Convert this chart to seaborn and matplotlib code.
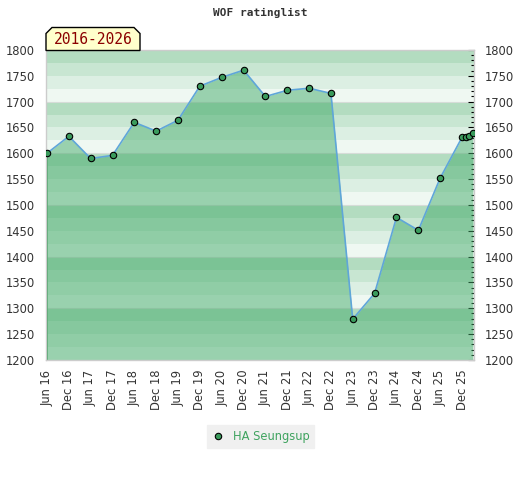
import matplotlib
matplotlib.use("Agg")
import matplotlib.pyplot as plt
import seaborn as sns
import pandas as pd
import numpy as np
from matplotlib.ticker import MultipleLocator
from matplotlib.lines import Line2D
from matplotlib.patches import Polygon

# ---- data ----
periods = ["2016-06", "2016-12", "2017-06", "2017-12", "2018-06", "2018-12",
           "2019-06", "2019-12", "2020-06", "2020-12", "2021-06", "2021-12",
           "2022-06", "2022-12", "2023-06", "2023-12", "2024-06", "2024-12",
           "2025-06", "2025-12", "2026-01", "2026-02", "2026-03"]
ratings = [1600, 1633, 1590, 1596, 1660, 1643, 1664, 1730, 1747, 1761,
           1710, 1722, 1726, 1716, 1279, 1329, 1476, 1451, 1552, 1631,
           1632, 1634, 1639]
tick_periods = ["2016-06", "2016-12", "2017-06", "2017-12", "2018-06", "2018-12",
                "2019-06", "2019-12", "2020-06", "2020-12", "2021-06", "2021-12",
                "2022-06", "2022-12", "2023-06", "2023-12", "2024-06", "2024-12",
                "2025-06", "2025-12"]
tick_labels = ["Jun 16", "Dec 16", "Jun 17", "Dec 17", "Jun 18", "Dec 18",
               "Jun 19", "Dec 19", "Jun 20", "Dec 20", "Jun 21", "Dec 21",
               "Jun 22", "Dec 22", "Jun 23", "Dec 23", "Jun 24", "Dec 24",
               "Jun 25", "Dec 25"]
player = "HA Seungsup"
title = "WOF ratinglist"
range_label = "2016-2026"
y_min, y_max = 1200, 1800

df = pd.DataFrame({"date": pd.to_datetime(periods), "rating": ratings})
ticks = pd.to_datetime(tick_periods)

sns.set_theme(style="white")
plt.rcParams["font.family"] = ["DejaVu Sans"]

fig = plt.figure(figsize=(5.2, 4.8), dpi=100)
ax = fig.add_axes([46/520, 1-360/480, 428/520, 310/480])

# background bands (4 shades per hundred, lightest at bottom)
band_colors = ["#eff8f2", "#dcefe3", "#c8e6d2", "#b3dcc0"]
for i, lo in enumerate(range(y_min, y_max, 25)):
    ax.axhspan(lo, lo + 25, color=band_colors[i % 4], lw=0, zorder=0)
for h in range(y_min + 100, y_max, 100):
    ax.axhline(h, color="#d6dcd8", lw=0.8, zorder=0.5)

# area fill
ax.fill_between(df["date"], df["rating"], y_min, color="#45ac6b", alpha=0.5,
                lw=0, zorder=1)
ax.vlines(df["date"].iloc[0], y_min, df["rating"].iloc[0], color="#3d9d5c",
          lw=1.2, zorder=2)

sns.lineplot(data=df, x="date", y="rating", ax=ax, color="#5fa6d9", lw=1.2,
             marker="o", markersize=4.6, markerfacecolor="#3a9b5c",
             markeredgecolor="black", markeredgewidth=0.8, zorder=3,
             legend=False)

ax.set_ylim(y_min, y_max)
ax.set_xlim(df["date"].iloc[0] - pd.Timedelta(days=8),
            df["date"].iloc[-1] + pd.Timedelta(days=10))
ax.set_xlabel("")
ax.set_ylabel("")

ax.set_xticks(ticks)
ax.set_xticklabels(tick_labels, rotation=90, fontsize=8.3, color="#333333")
ax.set_yticks(range(y_min, y_max + 1, 50))
ax.yaxis.set_minor_locator(MultipleLocator(10))
ax.tick_params(axis="x", length=0, pad=7)
ax.tick_params(axis="y", which="major", left=False, right=True, labelleft=True,
               labelright=True, direction="in", length=4, width=0.8,
               color="black", labelsize=8.3, labelcolor="#333333", pad=8)
ax.tick_params(axis="y", which="minor", left=False, right=True,
               direction="in", length=2.5, width=0.8, color="black")
for s in ax.spines.values():
    s.set_color("#cccccc")
    s.set_linewidth(1.0)
ax.grid(False)

# title
fig.text(0.5, 1-13/480, title, ha="center", va="center",
         family="DejaVu Sans Mono", fontweight="bold", fontsize=8,
         color="#333333")

# range box with clipped top corners
x0, x1 = 46/520, 140/520
y0, y1 = 1-50.5/480, 1-27.5/480
cx, cy = 6/520, 6/480
poly = Polygon([(x0, y0), (x0, y1 - cy), (x0 + cx, y1), (x1 - cx, y1),
                (x1, y1 - cy), (x1, y0)], closed=True, transform=fig.transFigure,
               facecolor="#ffffcc", edgecolor="black", lw=1, zorder=10)
fig.patches.append(poly)
fig.text((x0 + x1) / 2, (y0 + y1) / 2 - 0.002, range_label, ha="center",
         va="center", family="DejaVu Sans Mono", fontsize=10.5,
         color="#8b0000", zorder=11)

# legend
handle = Line2D([], [], ls="none", marker="o", markersize=4.6,
                markerfacecolor="#3a9b5c", markeredgecolor="black",
                markeredgewidth=0.8)
leg = fig.legend([handle], [player], loc="center",
                 bbox_to_anchor=(260.5/520, 1-436.5/480), frameon=True,
                 fancybox=False, facecolor="#f0f0f0", edgecolor="#f0f0f0",
                 framealpha=1, fontsize=8.3, handlelength=1.0,
                 handletextpad=0.8, borderpad=0.4)
for t in leg.get_texts():
    t.set_color("#3fa35f")

fig.savefig("out.png", dpi=100)
